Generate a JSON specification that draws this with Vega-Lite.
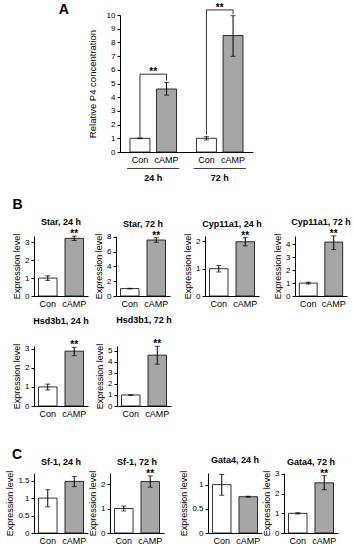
{
  "$schema": "https://vega.github.io/schema/vega-lite/v6.json",
  "padding": {"left": 5, "top": 2, "right": 0, "bottom": 0},
  "data": {"name": "e"},
  "datasets": {
    "e": [
      {"g": "Star24", "t": "Con", "m": 1.0, "lo": 0.87, "hi": 1.13, "s": ""},
      {"g": "Star24", "t": "cAMP", "m": 3.22, "lo": 3.1, "hi": 3.34, "s": "**"},
      {"g": "Star72", "t": "Con", "m": 1.0, "lo": 0.96, "hi": 1.04, "s": ""},
      {"g": "Star72", "t": "cAMP", "m": 7.56, "lo": 7.25, "hi": 7.87, "s": "**"},
      {"g": "Cyp24", "t": "Con", "m": 1.0, "lo": 0.88, "hi": 1.12, "s": ""},
      {"g": "Cyp24", "t": "cAMP", "m": 1.99, "lo": 1.84, "hi": 2.14, "s": "**"},
      {"g": "Cyp72", "t": "Con", "m": 1.0, "lo": 0.93, "hi": 1.07, "s": ""},
      {"g": "Cyp72", "t": "cAMP", "m": 4.18, "lo": 3.6, "hi": 4.66, "s": "**"},
      {"g": "Hsd24", "t": "Con", "m": 1.0, "lo": 0.84, "hi": 1.15, "s": ""},
      {"g": "Hsd24", "t": "cAMP", "m": 2.88, "lo": 2.64, "hi": 3.08, "s": "**"},
      {"g": "Hsd72", "t": "Con", "m": 1.0, "lo": 0.97, "hi": 1.03, "s": ""},
      {"g": "Hsd72", "t": "cAMP", "m": 4.62, "lo": 3.8, "hi": 5.42, "s": "**"},
      {"g": "Sf24", "t": "Con", "m": 1.0, "lo": 0.75, "hi": 1.24, "s": ""},
      {"g": "Sf24", "t": "cAMP", "m": 1.48, "lo": 1.33, "hi": 1.62, "s": ""},
      {"g": "Sf72", "t": "Con", "m": 1.0, "lo": 0.9, "hi": 1.1, "s": ""},
      {"g": "Sf72", "t": "cAMP", "m": 2.1, "lo": 1.87, "hi": 2.33, "s": "**"},
      {"g": "Gata24", "t": "Con", "m": 1.0, "lo": 0.78, "hi": 1.21, "s": ""},
      {"g": "Gata24", "t": "cAMP", "m": 0.75, "lo": 0.74, "hi": 0.76, "s": ""},
      {"g": "Gata72", "t": "Con", "m": 1.0, "lo": 0.97, "hi": 1.03, "s": ""},
      {"g": "Gata72", "t": "cAMP", "m": 2.55, "lo": 2.2, "hi": 2.92, "s": "**"}
    ],
    "p": [
      {"time": "24 h", "treat": "Con", "mean": 1.0, "lo": 0.97, "hi": 1.03},
      {"time": "24 h", "treat": "cAMP", "mean": 4.6, "lo": 4.15, "hi": 5.08},
      {"time": "72 h", "treat": "Con", "mean": 1.0, "lo": 0.88, "hi": 1.12},
      {"time": "72 h", "treat": "cAMP", "mean": 8.5, "lo": 6.98, "hi": 9.95}
    ],
    "br": [
      {"time": "24 h", "treat": "Con", "y": 1.1, "k": 1},
      {"time": "24 h", "treat": "Con", "y": 5.68, "k": 2},
      {"time": "24 h", "treat": "cAMP", "y": 5.68, "k": 3},
      {"time": "24 h", "treat": "cAMP", "y": 5.2, "k": 4},
      {"time": "72 h", "treat": "Con", "y": 1.3, "k": 1},
      {"time": "72 h", "treat": "Con", "y": 10.37, "k": 2},
      {"time": "72 h", "treat": "cAMP", "y": 10.37, "k": 3},
      {"time": "72 h", "treat": "cAMP", "y": 10.05, "k": 4}
    ],
    "st": [
      {"time": "24 h", "y": 5.68},
      {"time": "72 h", "y": 10.37}
    ],
    "ul": [{"time": "24 h"}, {"time": "72 h"}]
  },
  "config": {
    "view": {"stroke": null},
    "font": "Liberation Sans",
    "axis": {
      "grid": false, "domainColor": "#000", "tickColor": "#000", "labelColor": "#000",
      "titleColor": "#000", "labelFontSize": 8, "titleFontSize": 9, "titleFontWeight": "normal",
      "tickSize": 3, "labelPadding": 2, "titlePadding": 3, "labelOverlap": false
    },
    "axisX": {"labelAngle": 0, "ticks": false, "labelFontSize": 9, "labelPadding": 3},
    "tick": {"thickness": 1},
    "title": {"fontSize": 9, "fontWeight": "bold", "offset": 2, "color": "#000"}
  },
  "spacing": 15,
  "vconcat": [
    {
      "spacing": 0,
      "hconcat": [
        {"width": 24, "height": 10, "data": {"values": [{}]}, "mark": "text", "encoding": {"text": {"value": ""}}},
        {
          "width": 133, "height": 137,
          "data": {"name": "p"},
          "title": {"text": "A", "orient": "left", "anchor": "end", "angle": 0, "align": "right", "baseline": "top", "fontSize": 14, "fontWeight": "bold", "offset": 8},
          "encoding": {
            "x": {"field": "time", "type": "nominal", "scale": {"paddingInner": 0.3, "paddingOuter": 0.15},
                  "axis": {"title": null, "labelPadding": 21, "labelFontWeight": "bold", "labelFontSize": 9}}
          },
          "layer": [
            {
              "mark": {"type": "bar", "stroke": "black", "strokeWidth": 0.8},
              "encoding": {
                "xOffset": {"field": "treat", "sort": ["Con", "cAMP"], "scale": {"paddingInner": 0.25}},
                "y": {"field": "mean", "type": "quantitative", "scale": {"domain": [0, 10], "nice": false},
                      "axis": {"title": "Relative P4 concentration", "values": [0,1,2,3,4,5,6,7,8,9,10], "labelOverlap": false, "labelFlush": false, "labelBound": false, "format": "~f", "titleFontSize": 9.5, "titlePadding": 9}},
                "fill": {"field": "treat", "type": "nominal", "scale": {"domain": ["Con", "cAMP"], "range": ["#ffffff", "#a6a6a6"]}, "legend": null}
              }
            },
            {
              "mark": {"type": "rule", "color": "black"},
              "encoding": {
                "xOffset": {"field": "treat", "sort": ["Con", "cAMP"]},
                "y": {"field": "lo", "type": "quantitative", "axis": {"title": "Relative P4 concentration", "values": [0,1,2,3,4,5,6,7,8,9,10], "labelOverlap": false, "labelFlush": false, "labelBound": false, "format": "~f", "titleFontSize": 9.5, "titlePadding": 9}},
                "y2": {"field": "hi"}
              }
            },
            {
              "mark": {"type": "tick", "color": "black", "size": 5, "thickness": 1},
              "encoding": {
                "xOffset": {"field": "treat", "sort": ["Con", "cAMP"]},
                "y": {"field": "lo", "type": "quantitative", "axis": {"title": "Relative P4 concentration", "values": [0,1,2,3,4,5,6,7,8,9,10], "labelOverlap": false, "labelFlush": false, "labelBound": false, "format": "~f", "titleFontSize": 9.5, "titlePadding": 9}}
              }
            },
            {
              "mark": {"type": "tick", "color": "black", "size": 5, "thickness": 1},
              "encoding": {
                "xOffset": {"field": "treat", "sort": ["Con", "cAMP"]},
                "y": {"field": "hi", "type": "quantitative", "axis": {"title": "Relative P4 concentration", "values": [0,1,2,3,4,5,6,7,8,9,10], "labelOverlap": false, "labelFlush": false, "labelBound": false, "format": "~f", "titleFontSize": 9.5, "titlePadding": 9}}
              }
            },
            {
              "mark": {"type": "text", "baseline": "top", "dy": 4, "fontSize": 9},
              "encoding": {
                "xOffset": {"field": "treat", "sort": ["Con", "cAMP"]},
                "y": {"datum": 0, "axis": {"title": "Relative P4 concentration", "values": [0,1,2,3,4,5,6,7,8,9,10], "labelOverlap": false, "labelFlush": false, "labelBound": false, "format": "~f", "titleFontSize": 9.5, "titlePadding": 9}},
                "text": {"field": "treat"}
              }
            },
            {
              "data": {"name": "ul"},
              "mark": {"type": "bar", "width": {"band": 1.12}, "color": "black"},
              "encoding": {"y": {"datum": -1.16, "axis": {"title": "Relative P4 concentration", "values": [0,1,2,3,4,5,6,7,8,9,10], "labelOverlap": false, "labelFlush": false, "labelBound": false, "format": "~f", "titleFontSize": 9.5, "titlePadding": 9}}, "y2": {"datum": -1.23}}
            },
            {
              "data": {"name": "br"},
              "mark": {"type": "line", "color": "black", "strokeWidth": 0.8},
              "encoding": {
                "xOffset": {"field": "treat", "sort": ["Con", "cAMP"]},
                "y": {"field": "y", "type": "quantitative", "axis": {"title": "Relative P4 concentration", "values": [0,1,2,3,4,5,6,7,8,9,10], "labelOverlap": false, "labelFlush": false, "labelBound": false, "format": "~f", "titleFontSize": 9.5, "titlePadding": 9}},
                "order": {"field": "k"},
                "detail": {"field": "time"}
              }
            },
            {
              "data": {"name": "st"},
              "mark": {"type": "text", "text": "**", "baseline": "alphabetic", "dy": 1, "fontSize": 10, "fontWeight": "bold"},
              "encoding": {"y": {"field": "y", "type": "quantitative", "axis": {"title": "Relative P4 concentration", "values": [0,1,2,3,4,5,6,7,8,9,10], "labelOverlap": false, "labelFlush": false, "labelBound": false, "format": "~f", "titleFontSize": 9.5, "titlePadding": 9}}}
            }
          ]
        }
      ]
    },
    {
      "spacing": 30,
      "vconcat": [
        {
          "title": {"text": "B", "anchor": "start", "fontSize": 14, "fontWeight": "bold", "offset": 6},
          "spacing": 8,
          "vconcat": [
            {
              "spacing": 13,
              "hconcat": [
                {
                  "spacing": 6,
                  "hconcat": [
                    {"width": 54, "height": 60, "title": "Star, 24 h",
                     "transform": [{"filter": {"field": "g", "equal": "Star24"}}],
                     "encoding": {"x": {"field": "t", "type": "nominal", "sort": ["Con", "cAMP"], "scale": {"paddingInner": 0.3, "paddingOuter": 0.17}, "axis": {"title": null}}},
                     "layer": [
                       {"mark": {"type": "bar", "stroke": "black", "strokeWidth": 0.8},
                        "encoding": {"y": {"field": "m", "type": "quantitative", "scale": {"domain": [0, 3.35], "nice": false}, "axis": {"title": "Expression level", "values": [0,1,2,3], "labelOverlap": false, "labelFlush": false, "labelBound": false, "format": "~f"}},
                                     "fill": {"field": "t", "type": "nominal", "scale": {"domain": ["Con", "cAMP"], "range": ["#ffffff", "#a6a6a6"]}, "legend": null}}},
                       {"mark": {"type": "rule", "color": "black"}, "encoding": {"y": {"field": "lo", "type": "quantitative", "axis": {"title": "Expression level", "values": [0,1,2,3], "labelOverlap": false, "labelFlush": false, "labelBound": false, "format": "~f"}}, "y2": {"field": "hi"}}},
                       {"mark": {"type": "tick", "color": "black", "size": 5, "thickness": 1}, "encoding": {"y": {"field": "lo", "type": "quantitative", "axis": {"title": "Expression level", "values": [0,1,2,3], "labelOverlap": false, "labelFlush": false, "labelBound": false, "format": "~f"}}}},
                       {"mark": {"type": "tick", "color": "black", "size": 5, "thickness": 1}, "encoding": {"y": {"field": "hi", "type": "quantitative", "axis": {"title": "Expression level", "values": [0,1,2,3], "labelOverlap": false, "labelFlush": false, "labelBound": false, "format": "~f"}}}},
                       {"mark": {"type": "text", "baseline": "alphabetic", "dy": 1, "fontSize": 10, "fontWeight": "bold"},
                        "encoding": {"y": {"field": "hi", "type": "quantitative", "axis": {"title": "Expression level", "values": [0,1,2,3], "labelOverlap": false, "labelFlush": false, "labelBound": false, "format": "~f"}}, "text": {"field": "s"}}}
                     ]},
                    {"width": 54, "height": 60, "title": "Star, 72 h",
                     "transform": [{"filter": {"field": "g", "equal": "Star72"}}],
                     "encoding": {"x": {"field": "t", "type": "nominal", "sort": ["Con", "cAMP"], "scale": {"paddingInner": 0.3, "paddingOuter": 0.17}, "axis": {"title": null}}},
                     "layer": [
                       {"mark": {"type": "bar", "stroke": "black", "strokeWidth": 0.8},
                        "encoding": {"y": {"field": "m", "type": "quantitative", "scale": {"domain": [0, 8.1], "nice": false}, "axis": {"title": "Expression level", "values": [0,2,4,6,8], "labelOverlap": false, "labelFlush": false, "labelBound": false, "format": "~f"}},
                                     "fill": {"field": "t", "type": "nominal", "scale": {"domain": ["Con", "cAMP"], "range": ["#ffffff", "#a6a6a6"]}, "legend": null}}},
                       {"mark": {"type": "rule", "color": "black"}, "encoding": {"y": {"field": "lo", "type": "quantitative", "axis": {"title": "Expression level", "values": [0,2,4,6,8], "labelOverlap": false, "labelFlush": false, "labelBound": false, "format": "~f"}}, "y2": {"field": "hi"}}},
                       {"mark": {"type": "tick", "color": "black", "size": 5, "thickness": 1}, "encoding": {"y": {"field": "lo", "type": "quantitative", "axis": {"title": "Expression level", "values": [0,2,4,6,8], "labelOverlap": false, "labelFlush": false, "labelBound": false, "format": "~f"}}}},
                       {"mark": {"type": "tick", "color": "black", "size": 5, "thickness": 1}, "encoding": {"y": {"field": "hi", "type": "quantitative", "axis": {"title": "Expression level", "values": [0,2,4,6,8], "labelOverlap": false, "labelFlush": false, "labelBound": false, "format": "~f"}}}},
                       {"mark": {"type": "text", "baseline": "alphabetic", "dy": 1, "fontSize": 10, "fontWeight": "bold"},
                        "encoding": {"y": {"field": "hi", "type": "quantitative", "axis": {"title": "Expression level", "values": [0,2,4,6,8], "labelOverlap": false, "labelFlush": false, "labelBound": false, "format": "~f"}}, "text": {"field": "s"}}}
                     ]}
                  ]
                },
                {
                  "spacing": 11,
                  "hconcat": [
                    {"width": 54, "height": 60, "title": "Cyp11a1, 24 h",
                     "transform": [{"filter": {"field": "g", "equal": "Cyp24"}}],
                     "encoding": {"x": {"field": "t", "type": "nominal", "sort": ["Con", "cAMP"], "scale": {"paddingInner": 0.3, "paddingOuter": 0.17}, "axis": {"title": null}}},
                     "layer": [
                       {"mark": {"type": "bar", "stroke": "black", "strokeWidth": 0.8},
                        "encoding": {"y": {"field": "m", "type": "quantitative", "scale": {"domain": [0, 2.2], "nice": false}, "axis": {"title": "Expression level", "values": [0,1,2], "labelOverlap": false, "labelFlush": false, "labelBound": false, "format": "~f"}},
                                     "fill": {"field": "t", "type": "nominal", "scale": {"domain": ["Con", "cAMP"], "range": ["#ffffff", "#a6a6a6"]}, "legend": null}}},
                       {"mark": {"type": "rule", "color": "black"}, "encoding": {"y": {"field": "lo", "type": "quantitative", "axis": {"title": "Expression level", "values": [0,1,2], "labelOverlap": false, "labelFlush": false, "labelBound": false, "format": "~f"}}, "y2": {"field": "hi"}}},
                       {"mark": {"type": "tick", "color": "black", "size": 5, "thickness": 1}, "encoding": {"y": {"field": "lo", "type": "quantitative", "axis": {"title": "Expression level", "values": [0,1,2], "labelOverlap": false, "labelFlush": false, "labelBound": false, "format": "~f"}}}},
                       {"mark": {"type": "tick", "color": "black", "size": 5, "thickness": 1}, "encoding": {"y": {"field": "hi", "type": "quantitative", "axis": {"title": "Expression level", "values": [0,1,2], "labelOverlap": false, "labelFlush": false, "labelBound": false, "format": "~f"}}}},
                       {"mark": {"type": "text", "baseline": "alphabetic", "dy": 1, "fontSize": 10, "fontWeight": "bold"},
                        "encoding": {"y": {"field": "hi", "type": "quantitative", "axis": {"title": "Expression level", "values": [0,1,2], "labelOverlap": false, "labelFlush": false, "labelBound": false, "format": "~f"}}, "text": {"field": "s"}}}
                     ]},
                    {"width": 52, "height": 60, "title": "Cyp11a1, 72 h",
                     "transform": [{"filter": {"field": "g", "equal": "Cyp72"}}],
                     "encoding": {"x": {"field": "t", "type": "nominal", "sort": ["Con", "cAMP"], "scale": {"paddingInner": 0.3, "paddingOuter": 0.17}, "axis": {"title": null}}},
                     "layer": [
                       {"mark": {"type": "bar", "stroke": "black", "strokeWidth": 0.8},
                        "encoding": {"y": {"field": "m", "type": "quantitative", "scale": {"domain": [0, 4.65], "nice": false}, "axis": {"title": "Expression level", "values": [0,1,2,3,4], "labelOverlap": false, "labelFlush": false, "labelBound": false, "format": "~f"}},
                                     "fill": {"field": "t", "type": "nominal", "scale": {"domain": ["Con", "cAMP"], "range": ["#ffffff", "#a6a6a6"]}, "legend": null}}},
                       {"mark": {"type": "rule", "color": "black"}, "encoding": {"y": {"field": "lo", "type": "quantitative", "axis": {"title": "Expression level", "values": [0,1,2,3,4], "labelOverlap": false, "labelFlush": false, "labelBound": false, "format": "~f"}}, "y2": {"field": "hi"}}},
                       {"mark": {"type": "tick", "color": "black", "size": 5, "thickness": 1}, "encoding": {"y": {"field": "lo", "type": "quantitative", "axis": {"title": "Expression level", "values": [0,1,2,3,4], "labelOverlap": false, "labelFlush": false, "labelBound": false, "format": "~f"}}}},
                       {"mark": {"type": "tick", "color": "black", "size": 5, "thickness": 1}, "encoding": {"y": {"field": "hi", "type": "quantitative", "axis": {"title": "Expression level", "values": [0,1,2,3,4], "labelOverlap": false, "labelFlush": false, "labelBound": false, "format": "~f"}}}},
                       {"mark": {"type": "text", "baseline": "alphabetic", "dy": 1, "fontSize": 10, "fontWeight": "bold"},
                        "encoding": {"y": {"field": "hi", "type": "quantitative", "axis": {"title": "Expression level", "values": [0,1,2,3,4], "labelOverlap": false, "labelFlush": false, "labelBound": false, "format": "~f"}}, "text": {"field": "s"}}}
                     ]}
                  ]
                }
              ]
            },
            {
              "spacing": 6,
              "hconcat": [
                {"width": 54, "height": 60, "title": {"text": "Hsd3b1, 24 h", "offset": 14},
                 "transform": [{"filter": {"field": "g", "equal": "Hsd24"}}],
                 "encoding": {"x": {"field": "t", "type": "nominal", "sort": ["Con", "cAMP"], "scale": {"paddingInner": 0.3, "paddingOuter": 0.17}, "axis": {"title": null}}},
                 "layer": [
                   {"mark": {"type": "bar", "stroke": "black", "strokeWidth": 0.8},
                    "encoding": {"y": {"field": "m", "type": "quantitative", "scale": {"domain": [0, 3.15], "nice": false}, "axis": {"title": "Expression level", "values": [0,1,2,3], "labelOverlap": false, "labelFlush": false, "labelBound": false, "format": "~f"}},
                                 "fill": {"field": "t", "type": "nominal", "scale": {"domain": ["Con", "cAMP"], "range": ["#ffffff", "#a6a6a6"]}, "legend": null}}},
                   {"mark": {"type": "rule", "color": "black"}, "encoding": {"y": {"field": "lo", "type": "quantitative", "axis": {"title": "Expression level", "values": [0,1,2,3], "labelOverlap": false, "labelFlush": false, "labelBound": false, "format": "~f"}}, "y2": {"field": "hi"}}},
                   {"mark": {"type": "tick", "color": "black", "size": 5, "thickness": 1}, "encoding": {"y": {"field": "lo", "type": "quantitative", "axis": {"title": "Expression level", "values": [0,1,2,3], "labelOverlap": false, "labelFlush": false, "labelBound": false, "format": "~f"}}}},
                   {"mark": {"type": "tick", "color": "black", "size": 5, "thickness": 1}, "encoding": {"y": {"field": "hi", "type": "quantitative", "axis": {"title": "Expression level", "values": [0,1,2,3], "labelOverlap": false, "labelFlush": false, "labelBound": false, "format": "~f"}}}},
                   {"mark": {"type": "text", "baseline": "alphabetic", "dy": 1, "fontSize": 10, "fontWeight": "bold"},
                    "encoding": {"y": {"field": "hi", "type": "quantitative", "axis": {"title": "Expression level", "values": [0,1,2,3], "labelOverlap": false, "labelFlush": false, "labelBound": false, "format": "~f"}}, "text": {"field": "s"}}}
                 ]},
                {"width": 54, "height": 60, "title": {"text": "Hsd3b1, 72 h", "offset": 14},
                 "transform": [{"filter": {"field": "g", "equal": "Hsd72"}}],
                 "encoding": {"x": {"field": "t", "type": "nominal", "sort": ["Con", "cAMP"], "scale": {"paddingInner": 0.3, "paddingOuter": 0.17}, "axis": {"title": null}}},
                 "layer": [
                   {"mark": {"type": "bar", "stroke": "black", "strokeWidth": 0.8},
                    "encoding": {"y": {"field": "m", "type": "quantitative", "scale": {"domain": [0, 5.45], "nice": false}, "axis": {"title": "Expression level", "values": [0,1,2,3,4,5], "labelOverlap": false, "labelFlush": false, "labelBound": false, "format": "~f"}},
                                 "fill": {"field": "t", "type": "nominal", "scale": {"domain": ["Con", "cAMP"], "range": ["#ffffff", "#a6a6a6"]}, "legend": null}}},
                   {"mark": {"type": "rule", "color": "black"}, "encoding": {"y": {"field": "lo", "type": "quantitative", "axis": {"title": "Expression level", "values": [0,1,2,3,4,5], "labelOverlap": false, "labelFlush": false, "labelBound": false, "format": "~f"}}, "y2": {"field": "hi"}}},
                   {"mark": {"type": "tick", "color": "black", "size": 5, "thickness": 1}, "encoding": {"y": {"field": "lo", "type": "quantitative", "axis": {"title": "Expression level", "values": [0,1,2,3,4,5], "labelOverlap": false, "labelFlush": false, "labelBound": false, "format": "~f"}}}},
                   {"mark": {"type": "tick", "color": "black", "size": 5, "thickness": 1}, "encoding": {"y": {"field": "hi", "type": "quantitative", "axis": {"title": "Expression level", "values": [0,1,2,3,4,5], "labelOverlap": false, "labelFlush": false, "labelBound": false, "format": "~f"}}}},
                   {"mark": {"type": "text", "baseline": "alphabetic", "dy": 1, "fontSize": 10, "fontWeight": "bold"},
                    "encoding": {"y": {"field": "hi", "type": "quantitative", "axis": {"title": "Expression level", "values": [0,1,2,3,4,5], "labelOverlap": false, "labelFlush": false, "labelBound": false, "format": "~f"}}, "text": {"field": "s"}}}
                 ]}
              ]
            }
          ]
        },
        {
          "title": {"text": "C", "anchor": "start", "fontSize": 14, "fontWeight": "bold", "offset": 6, "dx": 6, "dy": 12},
          "spacing": 15,
          "hconcat": [
            {
              "spacing": 0,
              "hconcat": [
                {"width": 54, "height": 60, "title": "Sf-1, 24 h",
                 "transform": [{"filter": {"field": "g", "equal": "Sf24"}}],
                 "encoding": {"x": {"field": "t", "type": "nominal", "sort": ["Con", "cAMP"], "scale": {"paddingInner": 0.3, "paddingOuter": 0.17}, "axis": {"title": null}}},
                 "layer": [
                   {"mark": {"type": "bar", "stroke": "black", "strokeWidth": 0.8},
                    "encoding": {"y": {"field": "m", "type": "quantitative", "scale": {"domain": [0, 1.72], "nice": false}, "axis": {"title": "Expression level", "values": [0,0.5,1,1.5], "labelOverlap": false, "labelFlush": false, "labelBound": false, "format": "~f"}},
                                 "fill": {"field": "t", "type": "nominal", "scale": {"domain": ["Con", "cAMP"], "range": ["#ffffff", "#a6a6a6"]}, "legend": null}}},
                   {"mark": {"type": "rule", "color": "black"}, "encoding": {"y": {"field": "lo", "type": "quantitative", "axis": {"title": "Expression level", "values": [0,0.5,1,1.5], "labelOverlap": false, "labelFlush": false, "labelBound": false, "format": "~f"}}, "y2": {"field": "hi"}}},
                   {"mark": {"type": "tick", "color": "black", "size": 5, "thickness": 1}, "encoding": {"y": {"field": "lo", "type": "quantitative", "axis": {"title": "Expression level", "values": [0,0.5,1,1.5], "labelOverlap": false, "labelFlush": false, "labelBound": false, "format": "~f"}}}},
                   {"mark": {"type": "tick", "color": "black", "size": 5, "thickness": 1}, "encoding": {"y": {"field": "hi", "type": "quantitative", "axis": {"title": "Expression level", "values": [0,0.5,1,1.5], "labelOverlap": false, "labelFlush": false, "labelBound": false, "format": "~f"}}}},
                   {"mark": {"type": "text", "baseline": "alphabetic", "dy": 1, "fontSize": 10, "fontWeight": "bold"},
                    "encoding": {"y": {"field": "hi", "type": "quantitative", "axis": {"title": "Expression level", "values": [0,0.5,1,1.5], "labelOverlap": false, "labelFlush": false, "labelBound": false, "format": "~f"}}, "text": {"field": "s"}}}
                 ]},
                {"width": 54, "height": 60, "title": "Sf-1, 72 h",
                 "transform": [{"filter": {"field": "g", "equal": "Sf72"}}],
                 "encoding": {"x": {"field": "t", "type": "nominal", "sort": ["Con", "cAMP"], "scale": {"paddingInner": 0.3, "paddingOuter": 0.17}, "axis": {"title": null}}},
                 "layer": [
                   {"mark": {"type": "bar", "stroke": "black", "strokeWidth": 0.8},
                    "encoding": {"y": {"field": "m", "type": "quantitative", "scale": {"domain": [0, 2.45], "nice": false}, "axis": {"title": "Expression level", "values": [0,1,2], "labelOverlap": false, "labelFlush": false, "labelBound": false, "format": "~f"}},
                                 "fill": {"field": "t", "type": "nominal", "scale": {"domain": ["Con", "cAMP"], "range": ["#ffffff", "#a6a6a6"]}, "legend": null}}},
                   {"mark": {"type": "rule", "color": "black"}, "encoding": {"y": {"field": "lo", "type": "quantitative", "axis": {"title": "Expression level", "values": [0,1,2], "labelOverlap": false, "labelFlush": false, "labelBound": false, "format": "~f"}}, "y2": {"field": "hi"}}},
                   {"mark": {"type": "tick", "color": "black", "size": 5, "thickness": 1}, "encoding": {"y": {"field": "lo", "type": "quantitative", "axis": {"title": "Expression level", "values": [0,1,2], "labelOverlap": false, "labelFlush": false, "labelBound": false, "format": "~f"}}}},
                   {"mark": {"type": "tick", "color": "black", "size": 5, "thickness": 1}, "encoding": {"y": {"field": "hi", "type": "quantitative", "axis": {"title": "Expression level", "values": [0,1,2], "labelOverlap": false, "labelFlush": false, "labelBound": false, "format": "~f"}}}},
                   {"mark": {"type": "text", "baseline": "alphabetic", "dy": 1, "fontSize": 10, "fontWeight": "bold"},
                    "encoding": {"y": {"field": "hi", "type": "quantitative", "axis": {"title": "Expression level", "values": [0,1,2], "labelOverlap": false, "labelFlush": false, "labelBound": false, "format": "~f"}}, "text": {"field": "s"}}}
                 ]}
              ]
            },
            {
              "spacing": 0,
              "hconcat": [
                {"width": 54, "height": 60, "title": "Gata4, 24 h",
                 "transform": [{"filter": {"field": "g", "equal": "Gata24"}}],
                 "encoding": {"x": {"field": "t", "type": "nominal", "sort": ["Con", "cAMP"], "scale": {"paddingInner": 0.3, "paddingOuter": 0.17}, "axis": {"title": null}}},
                 "layer": [
                   {"mark": {"type": "bar", "stroke": "black", "strokeWidth": 0.8},
                    "encoding": {"y": {"field": "m", "type": "quantitative", "scale": {"domain": [0, 1.24], "nice": false}, "axis": {"title": "Expression level", "values": [0,0.5,1], "labelOverlap": false, "labelFlush": false, "labelBound": false, "format": "~f"}},
                                 "fill": {"field": "t", "type": "nominal", "scale": {"domain": ["Con", "cAMP"], "range": ["#ffffff", "#a6a6a6"]}, "legend": null}}},
                   {"mark": {"type": "rule", "color": "black"}, "encoding": {"y": {"field": "lo", "type": "quantitative", "axis": {"title": "Expression level", "values": [0,0.5,1], "labelOverlap": false, "labelFlush": false, "labelBound": false, "format": "~f"}}, "y2": {"field": "hi"}}},
                   {"mark": {"type": "tick", "color": "black", "size": 5, "thickness": 1}, "encoding": {"y": {"field": "lo", "type": "quantitative", "axis": {"title": "Expression level", "values": [0,0.5,1], "labelOverlap": false, "labelFlush": false, "labelBound": false, "format": "~f"}}}},
                   {"mark": {"type": "tick", "color": "black", "size": 5, "thickness": 1}, "encoding": {"y": {"field": "hi", "type": "quantitative", "axis": {"title": "Expression level", "values": [0,0.5,1], "labelOverlap": false, "labelFlush": false, "labelBound": false, "format": "~f"}}}},
                   {"mark": {"type": "text", "baseline": "alphabetic", "dy": 1, "fontSize": 10, "fontWeight": "bold"},
                    "encoding": {"y": {"field": "hi", "type": "quantitative", "axis": {"title": "Expression level", "values": [0,0.5,1], "labelOverlap": false, "labelFlush": false, "labelBound": false, "format": "~f"}}, "text": {"field": "s"}}}
                 ]},
                {"width": 54, "height": 60, "title": "Gata4, 72 h",
                 "transform": [{"filter": {"field": "g", "equal": "Gata72"}}],
                 "encoding": {"x": {"field": "t", "type": "nominal", "sort": ["Con", "cAMP"], "scale": {"paddingInner": 0.3, "paddingOuter": 0.17}, "axis": {"title": null}}},
                 "layer": [
                   {"mark": {"type": "bar", "stroke": "black", "strokeWidth": 0.8},
                    "encoding": {"y": {"field": "m", "type": "quantitative", "scale": {"domain": [0, 3.05], "nice": false}, "axis": {"title": "Expression level", "values": [0,1,2,3], "labelOverlap": false, "labelFlush": false, "labelBound": false, "format": "~f"}},
                                 "fill": {"field": "t", "type": "nominal", "scale": {"domain": ["Con", "cAMP"], "range": ["#ffffff", "#a6a6a6"]}, "legend": null}}},
                   {"mark": {"type": "rule", "color": "black"}, "encoding": {"y": {"field": "lo", "type": "quantitative", "axis": {"title": "Expression level", "values": [0,1,2,3], "labelOverlap": false, "labelFlush": false, "labelBound": false, "format": "~f"}}, "y2": {"field": "hi"}}},
                   {"mark": {"type": "tick", "color": "black", "size": 5, "thickness": 1}, "encoding": {"y": {"field": "lo", "type": "quantitative", "axis": {"title": "Expression level", "values": [0,1,2,3], "labelOverlap": false, "labelFlush": false, "labelBound": false, "format": "~f"}}}},
                   {"mark": {"type": "tick", "color": "black", "size": 5, "thickness": 1}, "encoding": {"y": {"field": "hi", "type": "quantitative", "axis": {"title": "Expression level", "values": [0,1,2,3], "labelOverlap": false, "labelFlush": false, "labelBound": false, "format": "~f"}}}},
                   {"mark": {"type": "text", "baseline": "alphabetic", "dy": 1, "fontSize": 10, "fontWeight": "bold"},
                    "encoding": {"y": {"field": "hi", "type": "quantitative", "axis": {"title": "Expression level", "values": [0,1,2,3], "labelOverlap": false, "labelFlush": false, "labelBound": false, "format": "~f"}}, "text": {"field": "s"}}}
                 ]}
              ]
            }
          ]
        }
      ]
    }
  ]
}
